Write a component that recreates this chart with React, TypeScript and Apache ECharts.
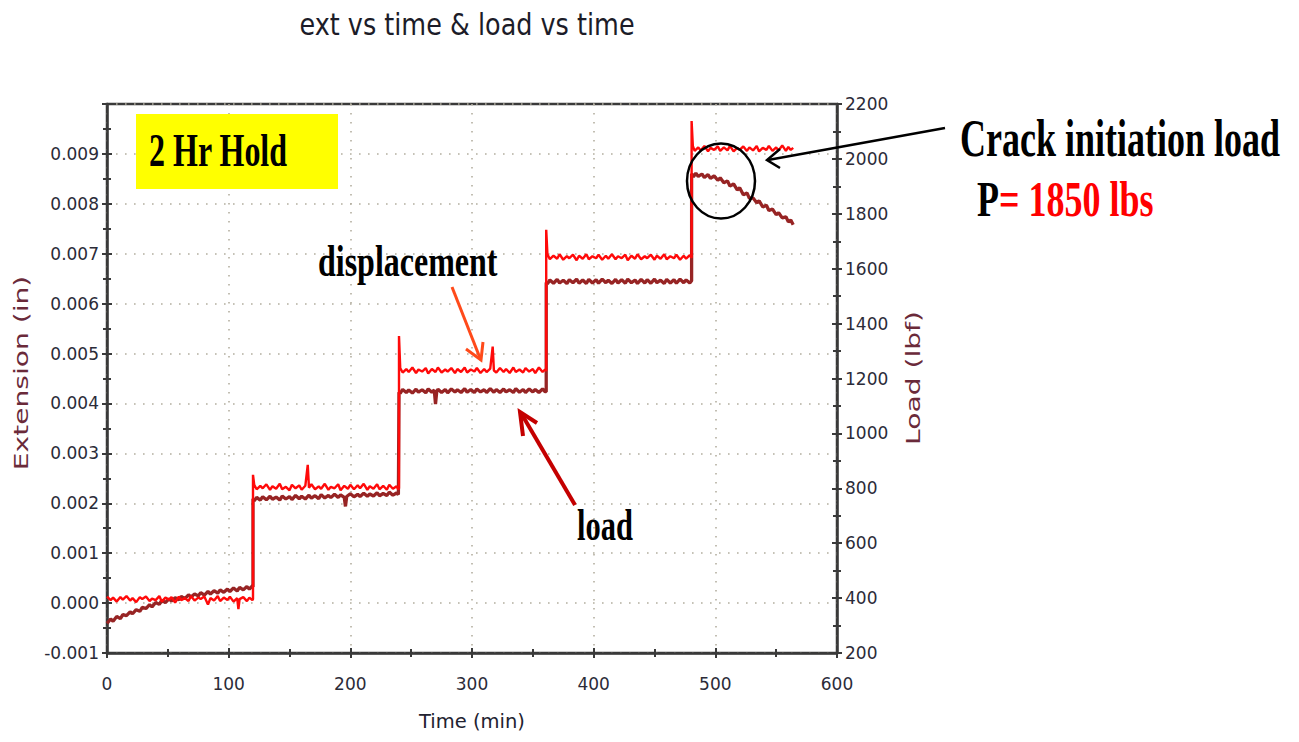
import React, { useEffect, useRef } from "react";
import * as echarts from "echarts";

const TITLE = "ext vs time & load vs time";
const X_NAME = "Time (min)";
const LEFT_NAME = "Extension (in)";
const RIGHT_NAME = "Load (lbf)";

// displacement / extension, in thousandths of an inch: [time (min), value]
const dispHold1 = [
  [0, 0.13], [3, 0.06], [5, 0.11], [8, 0.03], [11, 0.12], [13, 0.07], [16, 0.14], [19, 0.05],
  [21, 0.1], [24, 0.02], [27, 0.12], [29, 0.08], [32, 0.13], [35, 0.04], [37, 0.09], [40, 0.06],
  [43, 0.14], [45, 0.03], [48, 0.11], [51, 0.07], [53, 0.12], [56, 0.01], [59, 0.13], [61, 0.06],
  [64, 0.1], [67, 0.04], [69, 0.14], [72, 0.05], [75, 0.11], [77, 0.08], [80, 0.13], [83, -0.03],
  [85, 0.1], [88, 0.05], [91, 0.14], [93, 0.04], [96, 0.11], [99, 0.06], [101, 0.13], [104, 0.03],
  [107, 0.1], [108, -0.12], [109, 0.08], [112, 0.12], [115, 0.04], [117, 0.11], [119.5, 0.06],
];
const dispHold2 = [
  [120, 0.08], [120, 2.57], [121, 2.37], [123, 2.28], [126, 2.35], [128, 2.3], [131, 2.38],
  [134, 2.27], [136, 2.34], [139, 2.29], [142, 2.39], [144, 2.28], [147, 2.33], [150, 2.26],
  [152, 2.37], [155, 2.3], [158, 2.36], [160, 2.27], [163, 2.35], [165, 2.77], [166, 2.31],
  [168, 2.38], [171, 2.28], [174, 2.34], [176, 2.29], [179, 2.39], [182, 2.27], [184, 2.33],
  [187, 2.3], [190, 2.38], [192, 2.26], [195, 2.35], [198, 2.29], [200, 2.37], [203, 2.28],
  [206, 2.36], [208, 2.3], [211, 2.39], [214, 2.27], [216, 2.34], [219, 2.29], [222, 2.38],
  [224, 2.28], [227, 2.35], [230, 2.27], [232, 2.37], [235, 2.29], [238, 2.34], [239.5, 2.28],
];
const dispHold3 = [
  [240, 2.3], [240, 5.35], [241, 4.71], [243, 4.62], [246, 4.69], [248, 4.63], [251, 4.72],
  [254, 4.61], [256, 4.68], [259, 4.64], [262, 4.71], [264, 4.6], [267, 4.69], [270, 4.63],
  [272, 4.72], [275, 4.62], [278, 4.68], [280, 4.64], [283, 4.71], [286, 4.61], [288, 4.69],
  [291, 4.63], [294, 4.72], [296, 4.62], [299, 4.68], [302, 4.64], [304, 4.71], [307, 4.61],
  [310, 4.69], [312, 4.63], [315, 4.7], [317, 5.14], [318, 4.66], [320, 4.62], [323, 4.71],
  [326, 4.63], [328, 4.69], [331, 4.61], [334, 4.72], [336, 4.63], [339, 4.68], [342, 4.62],
  [344, 4.71], [347, 4.64], [350, 4.69], [352, 4.61], [355, 4.72], [358, 4.63], [360, 4.68],
];
const dispHold4 = [
  [361, 4.65], [361, 7.48], [362, 6.99], [364, 6.89], [367, 6.96], [370, 6.9], [372, 6.99],
  [375, 6.88], [378, 6.95], [380, 6.91], [383, 6.98], [386, 6.87], [388, 6.96], [391, 6.9],
  [394, 6.99], [396, 6.89], [399, 6.95], [402, 6.91], [404, 6.98], [407, 6.88], [410, 6.96],
  [412, 6.9], [415, 6.99], [418, 6.89], [420, 6.95], [423, 6.91], [426, 6.98], [428, 6.87],
  [431, 6.96], [434, 6.9], [436, 6.99], [439, 6.89], [442, 6.95], [444, 6.91], [447, 6.98],
  [450, 6.88], [452, 6.96], [455, 6.9], [458, 6.99], [460, 6.89], [463, 6.95], [466, 6.91],
  [468, 6.98], [471, 6.88], [474, 6.96], [476, 6.9], [479, 6.97], [480.5, 6.92],
];
const dispHold5 = [
  [480.5, 6.92], [480.5, 9.66], [481.5, 9.16], [483, 9.06], [486, 9.13], [488, 9.07], [491, 9.16],
  [494, 9.05], [496, 9.12], [499, 9.08], [502, 9.15], [504, 9.06], [507, 9.13], [510, 9.07],
  [512, 9.16], [515, 9.05], [518, 9.12], [520, 9.08], [523, 9.15], [526, 9.06], [528, 9.13],
  [531, 9.07], [534, 9.16], [536, 9.05], [539, 9.12], [542, 9.08], [544, 9.16], [547, 9.06],
  [550, 9.13], [552, 9.07], [555, 9.17], [558, 9.06], [560, 9.14], [562, 9.08], [564, 9.12],
];

// load, lbf: [time (min), value]
const loadHold1 = [
  [0, 308], [3, 324], [5, 316], [8, 333], [11, 325], [13, 340], [16, 336], [19, 350], [21, 343],
  [24, 358], [27, 352], [29, 366], [32, 362], [35, 376], [37, 368], [40, 384], [43, 377],
  [45, 392], [48, 384], [51, 397], [53, 389], [56, 401], [59, 394], [61, 406], [64, 398],
  [67, 412], [69, 404], [72, 415], [75, 408], [77, 420], [80, 411], [83, 424], [85, 415],
  [88, 427], [91, 418], [93, 430], [96, 421], [99, 433], [101, 424], [104, 437], [107, 426],
  [109, 439], [112, 430], [115, 442], [117, 433], [119.5, 444],
];
const loadHold2 = [
  [120, 440], [120, 762], [121, 754], [123, 767], [126, 757], [128, 769], [131, 758], [134, 771],
  [136, 760], [139, 768], [142, 757], [144, 772], [147, 761], [150, 770], [152, 759], [155, 774],
  [158, 762], [160, 771], [163, 761], [166, 775], [168, 764], [171, 773], [174, 762], [176, 777],
  [179, 765], [182, 774], [184, 766], [187, 778], [190, 767], [192, 776], [195, 767], [196, 734],
  [197, 770], [200, 780], [203, 769], [206, 778], [208, 770], [211, 782], [214, 771], [216, 779],
  [219, 772], [222, 784], [224, 773], [227, 781], [230, 774], [232, 786], [235, 775], [238, 783],
  [239.5, 777],
];
const loadHold3 = [
  [240, 777], [240, 1150], [241, 1146], [243, 1160], [246, 1149], [248, 1158], [251, 1147],
  [254, 1161], [256, 1150], [259, 1159], [262, 1148], [264, 1162], [267, 1150], [269, 1158],
  [270, 1107], [271, 1151], [272, 1161], [275, 1149], [278, 1160], [280, 1148], [283, 1162],
  [286, 1151], [288, 1159], [291, 1149], [294, 1163], [296, 1150], [299, 1160], [302, 1149],
  [304, 1162], [307, 1151], [310, 1159], [312, 1149], [315, 1163], [318, 1150], [320, 1160],
  [323, 1149], [326, 1162], [328, 1151], [331, 1159], [334, 1149], [336, 1163], [339, 1150],
  [342, 1160], [344, 1149], [347, 1162], [350, 1151], [352, 1160], [355, 1149], [358, 1162],
  [360, 1152],
];
const loadHold4 = [
  [361, 1152], [361, 1550], [362, 1545], [364, 1559], [367, 1547], [370, 1561], [372, 1548],
  [375, 1558], [378, 1546], [380, 1560], [383, 1549], [386, 1562], [388, 1547], [391, 1559],
  [394, 1546], [396, 1561], [399, 1548], [402, 1560], [404, 1547], [407, 1562], [410, 1549],
  [412, 1558], [415, 1546], [418, 1561], [420, 1548], [423, 1560], [426, 1547], [428, 1562],
  [431, 1549], [434, 1559], [436, 1546], [439, 1561], [442, 1548], [444, 1560], [447, 1547],
  [450, 1562], [452, 1549], [455, 1558], [458, 1546], [460, 1561], [463, 1548], [466, 1560],
  [468, 1547], [471, 1562], [474, 1549], [476, 1559], [479, 1548], [480.5, 1556],
];
const loadHold5 = [
  [480.5, 1556], [480.5, 1946], [482, 1935], [484, 1948], [486, 1936], [489, 1945], [491, 1932],
  [494, 1943], [496, 1929], [499, 1938], [502, 1922], [504, 1931], [507, 1913], [510, 1920],
  [512, 1901], [515, 1909], [518, 1887], [520, 1895], [523, 1869], [526, 1876], [528, 1856],
  [531, 1858], [534, 1840], [536, 1847], [539, 1825], [542, 1831], [544, 1812], [547, 1817],
  [550, 1797], [552, 1804], [555, 1785], [558, 1789], [560, 1771], [562, 1777], [564, 1760],
];

const X_MIN = 0;
const X_MAX = 600;
const X_STEP = 100;
const LEFT_MIN = -1; // thousandths of an inch
const LEFT_MAX = 10;
const LEFT_STEP = 1;
const RIGHT_MIN = 200;
const RIGHT_MAX = 2200;
const RIGHT_STEP = 200;

const AXIS_COLOR = "#3a3a3a";
const LABEL_COLOR = "#2b2b38";
const NAME_COLOR = "#6a2a3a";
const DISP_COLOR = "#ff0a0a";
const LOAD_COLOR = "#972424";
const GRID_DOT_COLOR = "#b3aea0";
const SANS = "'DejaVu Sans', Verdana, sans-serif";
const SERIF = "'Liberation Serif', 'Times New Roman', serif";

function serifText(text: string, x: number, y: number, size: number, fill: string, scaleY: number) {
  return {
    type: "text",
    x,
    y,
    scaleY,
    z: 100,
    style: {
      text,
      fontFamily: SERIF,
      fontWeight: "bold",
      fontSize: size,
      fill,
      align: "left",
      verticalAlign: "middle",
      textAlign: "left",
      textVerticalAlign: "middle",
    },
  };
}

function axisNameText(text: string, x: number, y: number) {
  return {
    type: "text",
    x,
    y,
    rotation: Math.PI / 2,
    scaleX: 1.48,
    z: 100,
    style: {
      text,
      fontFamily: SANS,
      fontSize: 19,
      fill: NAME_COLOR,
      align: "center",
      verticalAlign: "middle",
      textAlign: "center",
      textVerticalAlign: "middle",
    },
  };
}

export default function App() {
  const ref = useRef<HTMLDivElement>(null);

  useEffect(() => {
    document.body.style.margin = "0";
    if (!ref.current) return;
    const chart = echarts.init(ref.current, null, { renderer: "svg" });

    const splitDots = {
      show: true,
      lineStyle: { color: GRID_DOT_COLOR, width: 1.6, type: [1.6, 7.4] as any },
    };
    const baseTick = { show: true, length: 5, lineStyle: { color: AXIS_COLOR, width: 2 } };
    const baseMinor = { show: true, splitNumber: 2, length: 4, lineStyle: { color: AXIS_COLOR, width: 2 } };
    const tickLabel = { fontFamily: SANS, fontSize: 17, color: LABEL_COLOR };

    const option: any = {
      animation: false,
      backgroundColor: "#ffffff",
      grid: {
        left: 107,
        right: 462,
        top: 104,
        bottom: 89,
        show: true,
        borderColor: AXIS_COLOR,
        borderWidth: 2.5,
        backgroundColor: "transparent",
      },
      xAxis: [
        {
          type: "value",
          min: X_MIN,
          max: X_MAX,
          interval: X_STEP,
          position: "bottom",
          name: X_NAME,
          nameLocation: "middle",
          nameGap: 58,
          nameTextStyle: { fontFamily: SANS, fontSize: 19.5, color: "#222230" },
          axisLine: { show: true, onZero: false, lineStyle: { color: AXIS_COLOR, width: 2.5 } },
          axisTick: { ...baseTick },
          minorTick: { ...baseMinor },
          axisLabel: { ...tickLabel, margin: 22 },
          splitLine: splitDots,
        },
        {
          type: "value",
          min: X_MIN,
          max: X_MAX,
          interval: X_STEP,
          position: "bottom",
          axisLine: { show: false, onZero: false },
          axisTick: { ...baseTick, inside: true },
          minorTick: { ...baseMinor },
          axisLabel: { show: false },
          splitLine: { show: false },
        },
      ],
      yAxis: [
        {
          type: "value",
          min: LEFT_MIN,
          max: LEFT_MAX,
          interval: LEFT_STEP,
          position: "left",
          axisLine: { show: true, onZero: false, lineStyle: { color: AXIS_COLOR, width: 2.5 } },
          axisTick: { ...baseTick },
          minorTick: { ...baseMinor },
          axisLabel: {
            ...tickLabel,
            margin: 8,
            showMaxLabel: false,
            formatter: (v: number) => (v / 1000).toFixed(3),
          },
          splitLine: splitDots,
        },
        {
          type: "value",
          min: RIGHT_MIN,
          max: RIGHT_MAX,
          interval: RIGHT_STEP,
          position: "right",
          axisLine: { show: true, onZero: false, lineStyle: { color: AXIS_COLOR, width: 2.5 } },
          axisTick: { ...baseTick },
          minorTick: { ...baseMinor },
          axisLabel: { ...tickLabel, margin: 8, formatter: (v: number) => String(v) },
          splitLine: { show: false },
        },
        {
          type: "value",
          min: LEFT_MIN,
          max: LEFT_MAX,
          interval: LEFT_STEP,
          position: "left",
          axisLine: { show: false, onZero: false },
          axisTick: { ...baseTick, inside: true },
          minorTick: { ...baseMinor },
          axisLabel: { show: false },
          splitLine: { show: false },
        },
        {
          type: "value",
          min: RIGHT_MIN,
          max: RIGHT_MAX,
          interval: RIGHT_STEP,
          position: "right",
          axisLine: { show: false, onZero: false },
          axisTick: { ...baseTick, inside: true },
          minorTick: { ...baseMinor },
          axisLabel: { show: false },
          splitLine: { show: false },
        },
      ],
      series: [
        {
          name: "load",
          type: "line",
          xAxisIndex: 0,
          yAxisIndex: 1,
          showSymbol: false,
          symbol: "none",
          lineStyle: { color: LOAD_COLOR, width: 3.3 },
          data: [...loadHold1, ...loadHold2, ...loadHold3, ...loadHold4, ...loadHold5],
          z: 3,
        },
        {
          name: "displacement",
          type: "line",
          xAxisIndex: 0,
          yAxisIndex: 0,
          showSymbol: false,
          symbol: "none",
          lineStyle: { color: DISP_COLOR, width: 2.4 },
          data: [...dispHold1, ...dispHold2, ...dispHold3, ...dispHold4, ...dispHold5],
          z: 4,
        },
      ],
      graphic: [
        {
          type: "text",
          x: 467,
          y: 25,
          scaleY: 1.15,
          style: {
            text: TITLE,
            fontFamily: SANS,
            fontSize: 25.5,
            fill: "#1c1c28",
            align: "center",
            verticalAlign: "middle",
            textAlign: "center",
            textVerticalAlign: "middle",
          },
        },
        axisNameText(LEFT_NAME, 22, 373),
        axisNameText(RIGHT_NAME, 914, 378),
        {
          type: "rect",
          z: 90,
          shape: { x: 136, y: 114, width: 202, height: 75 },
          style: { fill: "#ffff00" },
        },
        serifText("2 Hr Hold", 149, 150, 32, "#000000", 1.45),
        serifText("displacement", 318, 260, 32, "#000000", 1.4),
        serifText("load", 577, 525, 30.5, "#000000", 1.44),
        serifText("Crack initiation load", 960, 139, 36, "#000000", 1.45),
        serifText("P", 977, 199, 36, "#000000", 1.43),
        serifText("= 1850 lbs", 999, 199, 36, "#ff0000", 1.43),
        // displacement arrow
        {
          type: "line",
          z: 100,
          shape: { x1: 452, y1: 287, x2: 480, y2: 358 },
          style: { stroke: "#ff4a1a", lineWidth: 3 },
        },
        {
          type: "polyline",
          z: 100,
          shape: { points: [[466, 349], [481, 360], [483, 342]] },
          style: { stroke: "#ff4a1a", lineWidth: 3, fill: "none" },
        },
        // load arrow
        {
          type: "line",
          z: 100,
          shape: { x1: 575, y1: 505, x2: 521, y2: 413 },
          style: { stroke: "#c40000", lineWidth: 4 },
        },
        {
          type: "polyline",
          z: 100,
          shape: { points: [[537, 423], [520, 412], [523, 436]] },
          style: { stroke: "#c40000", lineWidth: 4, fill: "none" },
        },
        // circle and crack arrow
        {
          type: "ellipse",
          z: 100,
          shape: { cx: 721, cy: 181, rx: 34, ry: 37.5 },
          style: { stroke: "#000000", lineWidth: 2.5, fill: "none" },
        },
        {
          type: "line",
          z: 100,
          shape: { x1: 945, y1: 128, x2: 768, y2: 160 },
          style: { stroke: "#000000", lineWidth: 2.5 },
        },
        {
          type: "polyline",
          z: 100,
          shape: { points: [[780, 149], [767, 160], [780, 168]] },
          style: { stroke: "#000000", lineWidth: 2.5, fill: "none" },
        },
      ],
    };

    chart.setOption(option);
    return () => {
      chart.dispose();
    };
  }, []);

  return <div ref={ref} style={{ width: 1299, height: 742 }} />;
}
